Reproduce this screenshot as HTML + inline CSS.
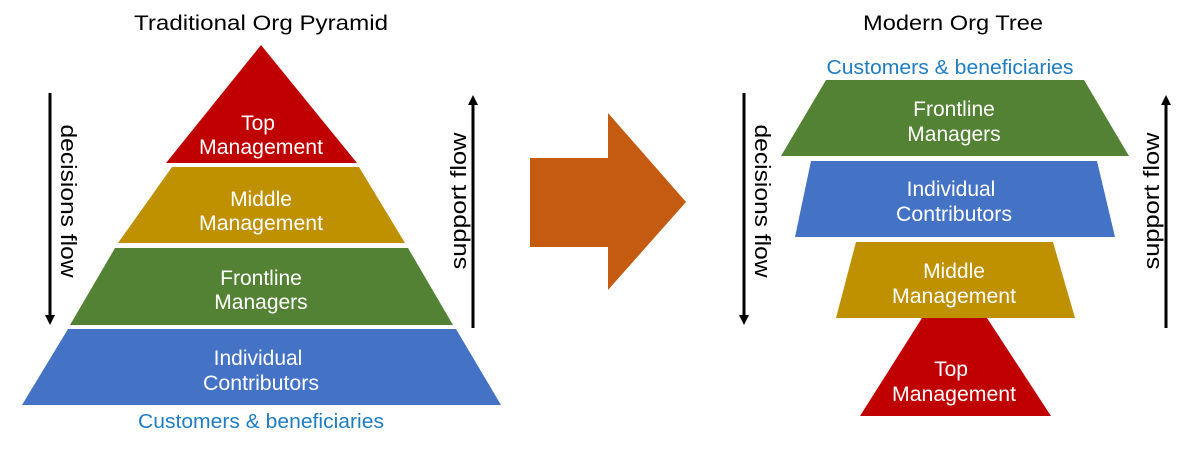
<!DOCTYPE html>
<html><head><meta charset="utf-8"><style>
html,body{margin:0;padding:0;background:#fff;}
svg text{font-family:"Liberation Sans",sans-serif;}
</style></head><body>
<svg width="1195" height="445" viewBox="0 0 1195 445" xmlns="http://www.w3.org/2000/svg">
<defs>
<marker id="ah" markerWidth="10" markerHeight="10" refX="5" refY="5" orient="auto" markerUnits="userSpaceOnUse">
<path d="M0,0 L10,5 L0,10 z" fill="#000"/></marker>
</defs>
<g font-size="21" text-anchor="middle" fill="#000">
<text x="261" y="30" textLength="254" lengthAdjust="spacingAndGlyphs">Traditional Org Pyramid</text>
<text x="953" y="30" textLength="180" lengthAdjust="spacingAndGlyphs">Modern Org Tree</text>
</g>
<!-- Left pyramid -->
<polygon points="261,45 357,163 166,163" fill="#c00000"/>
<polygon points="172,167 359,167 405,243 118,243" fill="#bf9000"/>
<polygon points="115,248 408,248 453,325 70,325" fill="#548235"/>
<polygon points="68,329 456,329 501,405 22,405" fill="#4472c4"/>
<g font-size="21" text-anchor="middle" fill="#fff">
<text x="258" y="130">Top</text><text x="261" y="154" textLength="124" lengthAdjust="spacingAndGlyphs">Management</text>
<text x="261" y="206">Middle</text><text x="261" y="230" textLength="124" lengthAdjust="spacingAndGlyphs">Management</text>
<text x="261" y="285">Frontline</text><text x="261" y="309">Managers</text>
<text x="258" y="365">Individual</text><text x="261" y="390" textLength="116" lengthAdjust="spacingAndGlyphs">Contributors</text>
</g>
<text x="261" y="428" font-size="20" text-anchor="middle" fill="#1f7cc0" textLength="246" lengthAdjust="spacingAndGlyphs">Customers &amp; beneficiaries</text>
<line x1="50" y1="93" x2="50" y2="320" stroke="#000" stroke-width="3" marker-end="url(#ah)"/>
<line x1="473" y1="328" x2="473" y2="100" stroke="#000" stroke-width="3" marker-end="url(#ah)"/>
<text x="0" y="0" font-size="22" text-anchor="middle" transform="translate(61,201) rotate(90)" textLength="153" lengthAdjust="spacingAndGlyphs">decisions flow</text>
<text x="0" y="0" font-size="22" text-anchor="middle" transform="translate(466,201) rotate(-90)" textLength="137" lengthAdjust="spacingAndGlyphs">support flow</text>
<!-- Big arrow -->
<polygon points="530,158 608,158 608,113 686,202 608,290 608,247 530,247" fill="#c55a11"/>
<!-- Right tree -->
<text x="950" y="74" font-size="20" text-anchor="middle" fill="#1f7cc0" textLength="247" lengthAdjust="spacingAndGlyphs">Customers &amp; beneficiaries</text>
<polygon points="826,80 1084,80 1129,156 781,156" fill="#548235"/>
<polygon points="811,161 1097,161 1115,237 795,237" fill="#4472c4"/>
<polygon points="922,318 987,318 1051,416 860,416" fill="#c00000"/>
<polygon points="856,242 1053,242 1075,318 836,318" fill="#bf9000"/>
<g font-size="21" text-anchor="middle" fill="#fff">
<text x="954" y="116">Frontline</text><text x="954" y="141">Managers</text>
<text x="951" y="196">Individual</text><text x="954" y="221" textLength="116" lengthAdjust="spacingAndGlyphs">Contributors</text>
<text x="954" y="278">Middle</text><text x="954" y="303" textLength="124" lengthAdjust="spacingAndGlyphs">Management</text>
<text x="951" y="376">Top</text><text x="954" y="401" textLength="124" lengthAdjust="spacingAndGlyphs">Management</text>
</g>
<line x1="744" y1="93" x2="744" y2="320" stroke="#000" stroke-width="3" marker-end="url(#ah)"/>
<line x1="1166" y1="328" x2="1166" y2="100" stroke="#000" stroke-width="3" marker-end="url(#ah)"/>
<text x="0" y="0" font-size="22" text-anchor="middle" transform="translate(755,201) rotate(90)" textLength="153" lengthAdjust="spacingAndGlyphs">decisions flow</text>
<text x="0" y="0" font-size="22" text-anchor="middle" transform="translate(1159,201) rotate(-90)" textLength="137" lengthAdjust="spacingAndGlyphs">support flow</text>
</svg>
</body></html>
